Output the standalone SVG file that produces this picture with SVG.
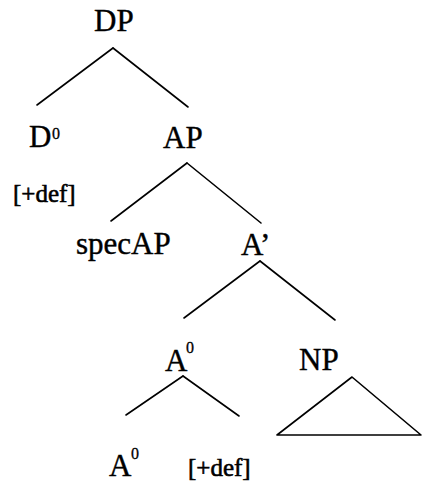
<svg xmlns="http://www.w3.org/2000/svg" width="422" height="483" viewBox="0 0 422 483">
<style>
text{font-family:"Liberation Serif","Times New Roman",serif;fill:#000;stroke:#000;stroke-width:0.4}
.n{font-size:31px}
.s{font-size:16px;stroke-width:0.3}
.f{font-size:25px;stroke-width:0.6}
.e{stroke:#000;stroke-width:1.6;fill:none;stroke-linecap:round;stroke-linejoin:round}
</style>
<rect width="422" height="483" fill="#fff"/>
<g id="connectors">
<line class="e" x1="113" y1="48" x2="37" y2="105"/>
<line class="e" x1="113" y1="48" x2="188" y2="107"/>
<line class="e" x1="187" y1="163" x2="111" y2="221"/>
<line class="e" x1="187" y1="163" x2="261" y2="223"/>
<line class="e" x1="260" y1="261" x2="184" y2="318"/>
<line class="e" x1="260" y1="261" x2="335" y2="320"/>
<line class="e" x1="183" y1="376" x2="126" y2="415"/>
<line class="e" x1="183" y1="376" x2="239" y2="416"/>
<polygon class="e" points="352,377 277,435 421,435"/>
</g>
<g id="DP"><text class="n" x="94" y="31">DP</text></g>
<g id="D0"><text class="n" x="29" y="147">D</text><text class="s" x="52" y="139">0</text></g>
<g id="def1"><text class="f" x="13" y="202">[+def]</text></g>
<g id="AP"><text class="n" x="163" y="148">AP</text></g>
<g id="specAP"><text class="n" x="76" y="254">specAP</text></g>
<g id="Abar"><text class="n" x="241" y="255">A’</text></g>
<g id="A0"><text class="n" x="165" y="371">A</text><text class="s" x="186" y="353">0</text></g>
<g id="NP"><text class="n" x="299" y="370">NP</text></g>
<g id="A0b"><text class="n" x="109" y="476">A</text><text class="s" x="131" y="459">0</text></g>
<g id="def2"><text class="f" x="188" y="476">[+def]</text></g>
</svg>
